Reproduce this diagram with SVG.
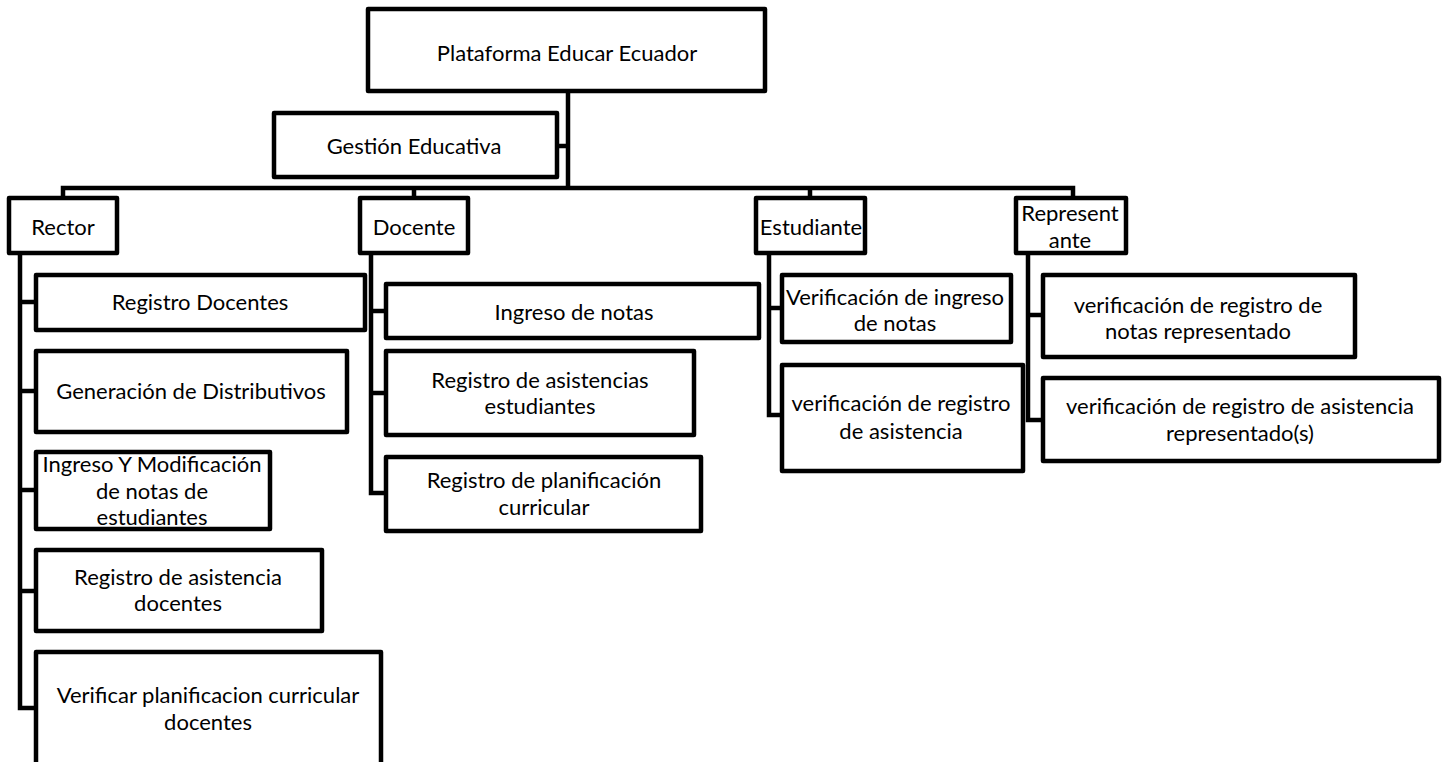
<svg xmlns="http://www.w3.org/2000/svg" width="1443" height="762" viewBox="0 0 1443 762">
<style>
.box{fill:#fff;stroke:#000;stroke-width:4.5;stroke-linejoin:round}
.ln{fill:none;stroke:#000;stroke-width:4.5;stroke-linecap:square}
text{font-family:Lato,"Open Sans","Liberation Sans",sans-serif;font-size:22px;fill:#000;text-anchor:middle}
</style>
<rect width="1443" height="762" fill="#fff"/>
<g id="connectors">
<path class="ln" d="M568 91 V188 M557 146 H568 M63 188 H1073 M63 188 V198 M414 188 V198 M810 188 V198 M1073 188 V198"/>
<path class="ln" d="M20 253 V708 M20 302 H36 M20 391 H36 M20 490 H36 M20 591 H36 M20 708 H36"/>
<path class="ln" d="M371 253 V493 M371 311 H386 M371 393 H386 M371 493 H386"/>
<path class="ln" d="M769 253 V415 M769 308 H782 M769 415 H782"/>
<path class="ln" d="M1028 253 V420 M1028 315 H1043 M1028 420 H1043"/>
</g>
<g id="n-plataforma"><rect class="box" x="368" y="9" width="397" height="82"/><text x="567" y="61">Plataforma Educar Ecuador</text></g>
<g id="n-gestion"><rect class="box" x="274" y="113" width="283" height="64"/><text x="414" y="154">Gestión Educativa</text></g>
<g id="n-rector"><rect class="box" x="9" y="198" width="108" height="55"/><text x="63" y="235">Rector</text></g>
<g id="n-docente"><rect class="box" x="360" y="198" width="108" height="55"/><text x="414" y="235">Docente</text></g>
<g id="n-estudiante"><rect class="box" x="756" y="198" width="109" height="55"/><text x="811" y="235">Estudiante</text></g>
<g id="n-representante"><rect class="box" x="1016" y="198" width="110" height="55"/><text x="1070" y="221">Represent</text><text x="1070" y="248">ante</text></g>
<g id="n-registro-docentes"><rect class="box" x="36" y="275" width="329" height="55"/><text x="200" y="310">Registro Docentes</text></g>
<g id="n-generacion"><rect class="box" x="36" y="351" width="311" height="81"/><text x="191" y="399">Generación de Distributivos</text></g>
<g id="n-ingreso-mod"><rect class="box" x="36" y="452" width="234" height="77"/><text x="152" y="472">Ingreso Y Modificación</text><text x="152" y="499">de notas de</text><text x="152" y="525">estudiantes</text></g>
<g id="n-reg-asist-doc"><rect class="box" x="36" y="550" width="286" height="81"/><text x="178" y="585">Registro de asistencia</text><text x="178" y="611">docentes</text></g>
<g id="n-verificar-plan"><rect class="box" x="36" y="652" width="345" height="115"/><text x="208" y="703">Verificar planificacion curricular</text><text x="208" y="730">docentes</text></g>
<g id="n-ingreso-notas"><rect class="box" x="386" y="284" width="373" height="54"/><text x="574" y="320">Ingreso de notas</text></g>
<g id="n-reg-asist-est"><rect class="box" x="386" y="351" width="308" height="84"/><text x="540" y="388">Registro de asistencias</text><text x="540" y="414">estudiantes</text></g>
<g id="n-reg-plan"><rect class="box" x="386" y="457" width="315" height="74"/><text x="544" y="488">Registro de planificación</text><text x="544" y="515">curricular</text></g>
<g id="n-verif-ingreso"><rect class="box" x="782" y="275" width="229" height="67"/><text x="895" y="305">Verificación de ingreso</text><text x="895" y="331">de notas</text></g>
<g id="n-verif-asist"><rect class="box" x="782" y="365" width="241" height="106"/><text x="901" y="411">verificación de registro</text><text x="901" y="439">de asistencia</text></g>
<g id="n-verif-notas-rep"><rect class="box" x="1043" y="275" width="312" height="82"/><text x="1198" y="313">verificación de registro de</text><text x="1198" y="339">notas representado</text></g>
<g id="n-verif-asist-rep"><rect class="box" x="1043" y="378" width="396" height="83"/><text x="1240" y="414">verificación de registro de asistencia</text><text x="1240" y="441">representado(s)</text></g>
</svg>
